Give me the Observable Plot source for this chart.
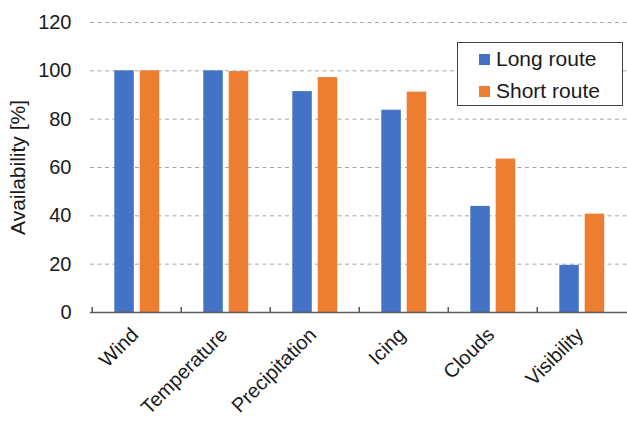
<!DOCTYPE html>
<html>
<head>
<meta charset="utf-8">
<script src="https://cdn.jsdelivr.net/npm/d3@7"></script>
<script src="https://cdn.jsdelivr.net/npm/@observablehq/plot@0.6"></script>
<style>
  html, body { margin: 0; padding: 0; background: #fff; }
  #chart { position: relative; width: 627px; height: 424px; font-family: "Liberation Sans", Arial, sans-serif; }
  #chart g[aria-label="y-axis tick label"] { font-size: 20px; }
  #chart g[aria-label="x-axis tick label"] { font-size: 20px; }
  #chart g[aria-label="y-axis label"] { font-size: 21px; }
  #legend {
    position: absolute; left: 457px; top: 42px; width: 166px; height: 64px;
    border: 1.5px solid #404040; background: #fff; box-sizing: border-box;
    font-size: 21px; color: #1a1a1a;
  }
  #legend .row { position: absolute; left: 21px; display: flex; align-items: center; line-height: 24px; }
  #legend .sw { width: 11px; height: 11px; margin-right: 6px; }
</style>
</head>
<body>
<div id="chart"></div>
<script>
// Weather criteria and availability per route (%)
const categories = ["Wind", "Temperature", "Precipitation", "Icing", "Clouds", "Visibility"];
const longRoute = [100, 100, 91.4, 83.7, 43.9, 19.5];
const shortRoute = [100, 99.7, 97.2, 91.2, 63.5, 40.7];
const seriesNames = ["Long route", "Short route"];
const seriesColors = ["#4472C4", "#ED7D31"];
const yTicks = [0, 20, 40, 60, 80, 100, 120];

const W = 627, H = 424;
const mLeft = 90, mRight = 0, mTop = 22, mBottom = 112;
const step = (W - mLeft - mRight) / categories.length;

const longRows = categories.map((c, i) => ({category: c, value: longRoute[i]}));
const shortRows = categories.map((c, i) => ({category: c, value: shortRoute[i]}));

const plot = Plot.plot({
  width: W,
  height: H,
  marginLeft: mLeft,
  marginRight: mRight,
  marginTop: mTop,
  marginBottom: mBottom,
  style: {fontFamily: "Liberation Sans, Arial, sans-serif", color: "#1a1a1a", background: "#fff"},
  x: {domain: categories, padding: 0, label: null},
  y: {domain: [0, 120], label: null},
  marks: [
    Plot.ruleY(yTicks.filter(d => d > 0), {stroke: "#a6a6a6", strokeWidth: 1, strokeDasharray: "4,3.5"}),
    Plot.barY(longRows, {x: "category", y: "value", fill: seriesColors[0], insetLeft: 22.3, insetRight: step - 42.3}),
    Plot.barY(shortRows, {x: "category", y: "value", fill: seriesColors[1], insetLeft: 47.7, insetRight: step - 67.7}),
    Plot.ruleY([0], {stroke: "#595959", strokeWidth: 1.5}),
    Plot.ruleX(categories, {x: d => d, y1: 0, y2: 2.1, dx: -step / 2, stroke: "#595959", strokeWidth: 1.5}),
    Plot.axisY({ticks: yTicks, tickSize: 0, tickPadding: 19, label: "Availability [%]", labelAnchor: "center", labelArrow: "none", labelOffset: 80}),
    Plot.axisX({tickSize: 0, tickRotate: -45, tickPadding: 19, dx: -2})
  ]
});

const chart = document.getElementById("chart");
chart.appendChild(plot);

// Legend box in the upper right of the plot area
const legend = document.createElement("div");
legend.id = "legend";
seriesNames.forEach((name, i) => {
  const row = document.createElement("div");
  row.className = "row";
  row.style.top = (4 + i * 32) + "px";
  const sw = document.createElement("div");
  sw.className = "sw";
  sw.style.background = seriesColors[i];
  const label = document.createElement("span");
  label.textContent = name;
  row.appendChild(sw);
  row.appendChild(label);
  legend.appendChild(row);
});
chart.appendChild(legend);
</script>
</body>
</html>
